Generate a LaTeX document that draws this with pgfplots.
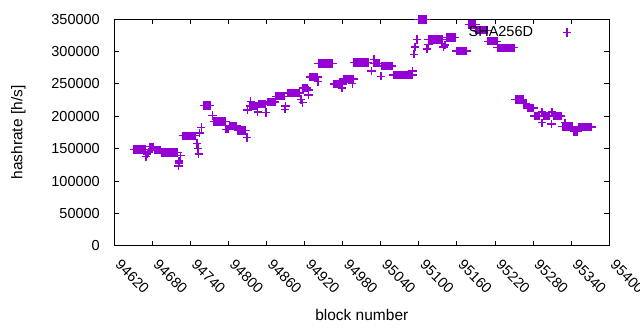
\documentclass[border=0pt]{standalone}
\usepackage{pgfplots}
\pgfplotsset{compat=1.18}
\usepackage{fontspec}
\setmainfont{Liberation Sans}
\definecolor{dviolet}{RGB}{148,0,211}
\begin{document}
\fontsize{14.5}{17}\selectfont
\begin{tikzpicture}[x=1pt,y=1pt]
\path[use as bounding box] (0,0) rectangle (640,330);
\begin{axis}[
  at={(114.3pt,84.3pt)}, anchor=south west,
  scale only axis, width=495pt, height=226.4pt,
  xmin=94620, xmax=95400, ymin=0, ymax=350000,
  xtick={94620,94680,...,95400},
  ytick={0,50000,...,350000},
  tick align=inside, tick pos=both,
  major tick length=5pt,
  axis line style={line width=1pt}, every tick/.style={line width=1pt, black},
  scaled ticks=false,
  xticklabel={\pgfmathprintnumber[fixed,precision=0,1000 sep={},assume math mode=true]{\tick}},
  yticklabel={\pgfmathprintnumber[fixed,precision=0,1000 sep={},assume math mode=true]{\tick}},
  tick label style={font=\fontsize{14.5}{17}\selectfont},
  xticklabel style={xshift=7.5pt, yshift=-6pt, rotate=-45, anchor=north west},
  yticklabel style={xshift=-9.5pt},
  xlabel={block number}, ylabel={hashrate [h/s]},
  label style={font=\fontsize{15.5}{18}\selectfont},
  xlabel style={at={(axis description cs:0.5,-0.308)}, anchor=center},
  ylabel style={at={(axis description cs:-0.194,0.5)}, anchor=center},
  clip=false,
  legend image code/.code={\path[draw=none,fill=none] (0pt,0pt) -- (38pt,0pt); \draw[#1] plot[only marks] coordinates {(32pt,0pt)};},
  legend style={draw=none, fill=none, inner sep=0pt, at={(axis description cs:1,1)}, anchor=north east, xshift=-36pt, yshift=-5pt, font=\fontsize{14.5}{17}\selectfont},
  legend plot pos=right, legend cell align=right,
]
\addplot[only marks, mark=+, mark size=4.2pt, dviolet, mark options={line width=1.4pt}] table {
x y
94651 148800
94653 148800
94655 148800
94657 148800
94659 148800
94661 148800
94663 148800
94665 148800
94667 148800
94669 148800
94670 138000
94672 142000
94674 145000
94676 153000
94678 153000
94680 153000
94682 153000
94683 148000
94685 148000
94687 148000
94689 148000
94691 148000
94693 148000
94694 144000
94696 144000
94698 144000
94700 144000
94702 144000
94704 144000
94706 144000
94708 144000
94710 144000
94712 144000
94714 144000
94716 144000
94718 144000
94720 144000
94721 123000
94722 128000
94722 131000
94724 139000
94728 170000
94730 170000
94732 170000
94734 170000
94736 170000
94738 170000
94740 170000
94742 170000
94744 170000
94746 170000
94748 170000
94750 158000
94752 150000
94753 142000
94754 174000
94757 183000
94761 217000
94763 217000
94765 217000
94767 217000
94769 217000
94771 217000
94775 201000
94777 192000
94779 192000
94781 192000
94783 192000
94785 192000
94787 192000
94789 192000
94791 192000
94793 192000
94795 192000
94796 180000
94798 180000
94800 180000
94802 185000
94804 185000
94806 185000
94808 185000
94810 185000
94812 185000
94813 185000
94815 178000
94817 178000
94819 178000
94821 178000
94823 178000
94825 178000
94827 178000
94829 167000
94830 210000
94835 223000
94834 216000
94836 216000
94838 216000
94840 216000
94842 216000
94844 216000
94846 216000
94846 207000
94848 219000
94850 219000
94852 219000
94854 219000
94856 219000
94858 219000
94859 206000
94861 222000
94863 222000
94865 222000
94867 222000
94869 222000
94871 222000
94873 222000
94875 231000
94877 231000
94879 231000
94881 231000
94883 231000
94885 231000
94887 231000
94888 231000
94890 216000
94889 211000
94894 236000
94896 236000
94898 236000
94900 236000
94902 236000
94904 236000
94906 236000
94908 236000
94910 236000
94912 236000
94914 226000
94917 221000
94917 244000
94919 244000
94921 244000
94923 244000
94924 244000
94926 241000
94926 233000
94928 261000
94930 261000
94932 261000
94934 261000
94936 261000
94938 261000
94940 261000
94941 254000
94942 281500
94944 281500
94946 281500
94948 281500
94950 281500
94952 281500
94954 281500
94956 281500
94958 281500
94960 281500
94962 281500
94964 281500
94966 250000
94968 250000
94970 250000
94972 250000
94974 250000
94976 250000
94978 250000
94980 250000
94979 244000
94981 258000
94983 258000
94985 258000
94987 258000
94989 258000
94991 258000
94993 258000
94995 258000
94997 258000
94995 251000
94998 283000
95000 283000
95002 283000
95004 283000
95006 283000
95008 283000
95010 283000
95012 283000
95014 283000
95016 283000
95018 283000
95020 283000
95025 270000
95029 288000
95029 282000
95031 282000
95033 282000
95035 282000
95037 282000
95040 262000
95042 278000
95044 278000
95046 278000
95048 278000
95050 278000
95052 278000
95054 278000
95056 278000
95058 278000
95060 264000
95062 264000
95064 264000
95066 264000
95068 264000
95070 264000
95072 264000
95074 264000
95076 264000
95078 264000
95080 264000
95082 264000
95084 264000
95086 264000
95088 264000
95090 264000
95090 270000
95092 296000
95094 307000
95097 319000
95099 349500
95101 349500
95103 349500
95105 349500
95107 349500
95109 349500
95111 349500
95113 304000
95115 311000
95115 319000
95117 319000
95119 319000
95121 319000
95123 319000
95125 319000
95127 319000
95129 319000
95131 319000
95133 319000
95135 319000
95137 319000
95139 307000
95141 310000
95143 322000
95145 322000
95147 322000
95149 322000
95151 322000
95153 322000
95155 322000
95157 322000
95159 301000
95161 301000
95163 301000
95165 301000
95167 301000
95169 301000
95171 301000
95173 301000
95175 301000
95179 342000
95181 342000
95183 342000
95185 342000
95187 342000
95189 342000
95190 333000
95192 333000
95194 333000
95196 333000
95198 333000
95200 333000
95202 333000
95204 333000
95206 333000
95208 333000
95209 316000
95211 316000
95213 316000
95215 316000
95217 316000
95219 316000
95221 316000
95223 316000
95224 306000
95226 306000
95228 306000
95230 306000
95232 306000
95234 306000
95236 306000
95238 306000
95240 306000
95242 306000
95244 306000
95246 306000
95248 306000
95250 306000
95252 226000
95254 226000
95256 226000
95258 226000
95260 226000
95262 226000
95264 226000
95265 220000
95267 220000
95269 220000
95271 213000
95273 213000
95275 213000
95277 213000
95279 213000
95281 213000
95282 200700
95284 200700
95286 200700
95288 200700
95290 200700
95294 207000
95294 190000
95296 200700
95298 200700
95300 200700
95302 200700
95304 200700
95306 200700
95309 188000
95310 207000
95312 200700
95314 200700
95316 200700
95318 200700
95320 200700
95322 200700
95324 200700
95326 184500
95328 184500
95330 184500
95332 184500
95334 184500
95336 184500
95338 184500
95340 184500
95342 184500
95330 190000
95344 176700
95346 176700
95348 176700
95350 176700
95352 183700
95354 183700
95356 183700
95358 183700
95360 183700
95362 183700
95364 183700
95366 183700
95368 183700
95370 183700
95372 183700
};
\addlegendentry{SHA256D}
\end{axis}
\end{tikzpicture}
\end{document}
